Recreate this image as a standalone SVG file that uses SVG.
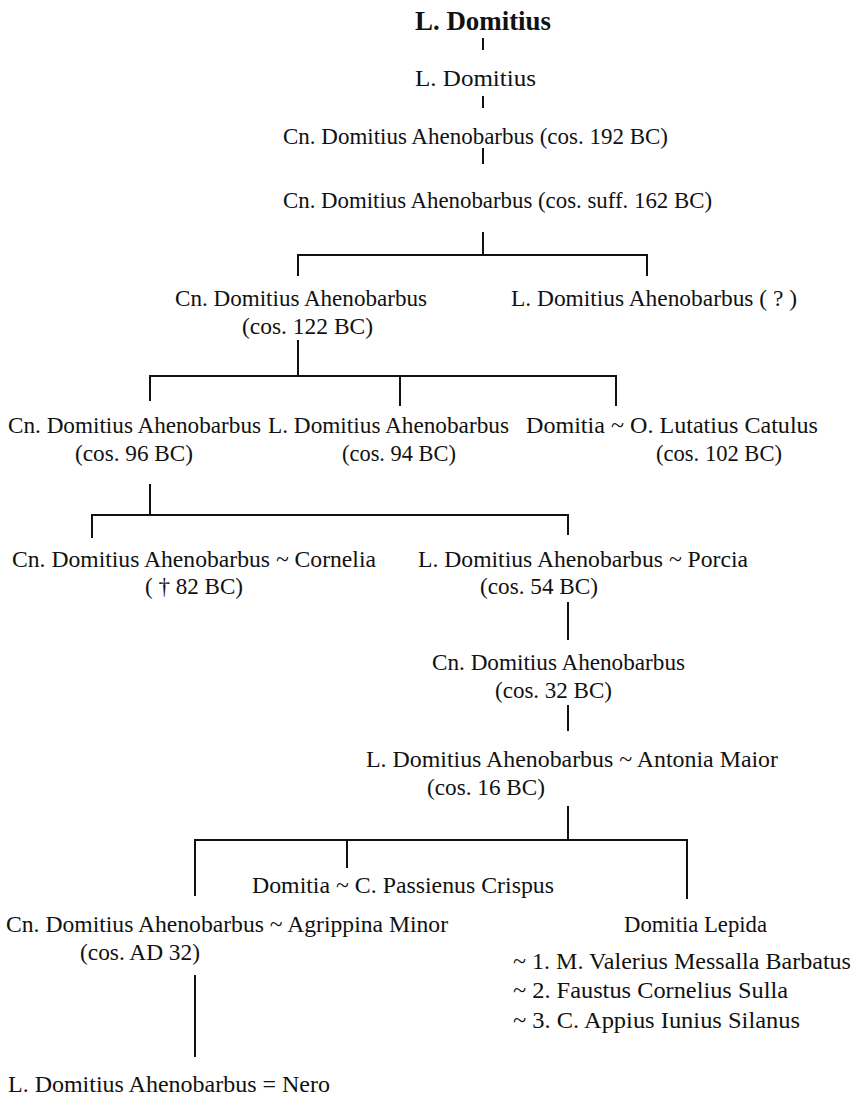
<svg xmlns="http://www.w3.org/2000/svg" width="856" height="1095" viewBox="0 0 856 1095">
<style>
text{font-family:"Times New Roman","Liberation Serif",serif;font-size:23px;fill:#111;}
.b{font-weight:bold;font-size:27px;}
.c line{stroke:#111;stroke-width:2;}
</style>
<rect width="856" height="1095" fill="#fff"/>
<g class="c" id="connectors">
<line x1="483" y1="38" x2="483" y2="50"/>
<line x1="483" y1="96" x2="483" y2="108"/>
<line x1="483" y1="148" x2="483" y2="164"/>
<line x1="483" y1="232" x2="483" y2="255"/>
<line x1="297" y1="255" x2="648" y2="255"/>
<line x1="298" y1="255" x2="298" y2="276"/>
<line x1="647" y1="255" x2="647" y2="276"/>
<line x1="298" y1="340" x2="298" y2="376"/>
<line x1="149" y1="376" x2="617" y2="376"/>
<line x1="150" y1="376" x2="150" y2="401"/>
<line x1="400" y1="376" x2="400" y2="406"/>
<line x1="616" y1="376" x2="616" y2="406"/>
<line x1="150" y1="484" x2="150" y2="515"/>
<line x1="91" y1="515" x2="569" y2="515"/>
<line x1="92" y1="515" x2="92" y2="538"/>
<line x1="568" y1="515" x2="568" y2="535"/>
<line x1="568" y1="602" x2="568" y2="640"/>
<line x1="568" y1="705" x2="568" y2="731"/>
<line x1="568" y1="806" x2="568" y2="840"/>
<line x1="194" y1="840" x2="688" y2="840"/>
<line x1="195" y1="840" x2="195" y2="896"/>
<line x1="347" y1="840" x2="347" y2="868"/>
<line x1="687" y1="840" x2="687" y2="899"/>
<line x1="195" y1="975" x2="195" y2="1057"/>
</g>
<g id="n1"><text class="b" x="415" y="30" textLength="136" lengthAdjust="spacingAndGlyphs">L. Domitius</text></g>
<g id="n2"><text x="415" y="86" textLength="121" lengthAdjust="spacingAndGlyphs">L. Domitius</text></g>
<g id="n3"><text x="283" y="144" textLength="385" lengthAdjust="spacingAndGlyphs">Cn. Domitius Ahenobarbus  (cos. 192 BC)</text></g>
<g id="n4"><text x="283" y="208" textLength="429" lengthAdjust="spacingAndGlyphs">Cn. Domitius Ahenobarbus  (cos. suff. 162 BC)</text></g>
<g id="n5"><text x="175" y="306" textLength="252" lengthAdjust="spacingAndGlyphs">Cn. Domitius Ahenobarbus</text><text x="242" y="334" textLength="131" lengthAdjust="spacingAndGlyphs">(cos. 122 BC)</text></g>
<g id="n6"><text x="511" y="306" textLength="286" lengthAdjust="spacingAndGlyphs">L. Domitius Ahenobarbus  ( ? )</text></g>
<g id="n7"><text x="8" y="433" textLength="253" lengthAdjust="spacingAndGlyphs">Cn. Domitius Ahenobarbus</text><text x="75" y="461" textLength="118" lengthAdjust="spacingAndGlyphs">(cos. 96 BC)</text></g>
<g id="n8"><text x="268" y="433" textLength="241" lengthAdjust="spacingAndGlyphs">L.  Domitius Ahenobarbus</text><text x="342" y="461" textLength="114" lengthAdjust="spacingAndGlyphs">(cos. 94 BC)</text></g>
<g id="n9"><text x="526" y="433" textLength="292" lengthAdjust="spacingAndGlyphs">Domitia  ~  O. Lutatius  Catulus</text><text x="656" y="461" textLength="126" lengthAdjust="spacingAndGlyphs">(cos. 102 BC)</text></g>
<g id="n10"><text x="12" y="567" textLength="364" lengthAdjust="spacingAndGlyphs">Cn. Domitius  Ahenobarbus  ~ Cornelia</text><text x="145" y="594" textLength="98" lengthAdjust="spacingAndGlyphs">( † 82 BC)</text></g>
<g id="n11"><text x="418" y="567" textLength="330" lengthAdjust="spacingAndGlyphs">L. Domitius Ahenobarbus  ~  Porcia</text><text x="480" y="594" textLength="118" lengthAdjust="spacingAndGlyphs">(cos. 54 BC)</text></g>
<g id="n12"><text x="432" y="670" textLength="253" lengthAdjust="spacingAndGlyphs">Cn. Domitius Ahenobarbus</text><text x="495" y="698" textLength="117" lengthAdjust="spacingAndGlyphs">(cos. 32 BC)</text></g>
<g id="n13"><text x="366" y="767" textLength="412" lengthAdjust="spacingAndGlyphs">L. Domitius Ahenobarbus  ~  Antonia Maior</text><text x="427" y="795" textLength="118" lengthAdjust="spacingAndGlyphs">(cos. 16 BC)</text></g>
<g id="n14"><text x="252" y="893" textLength="302" lengthAdjust="spacingAndGlyphs">Domitia  ~  C. Passienus Crispus</text></g>
<g id="n15"><text x="6" y="932" textLength="442" lengthAdjust="spacingAndGlyphs">Cn. Domitius Ahenobarbus  ~  Agrippina Minor</text><text x="80" y="960" textLength="120" lengthAdjust="spacingAndGlyphs">(cos. AD 32)</text></g>
<g id="n16"><text x="624" y="932" textLength="143" lengthAdjust="spacingAndGlyphs">Domitia Lepida</text>
<text x="513" y="969" textLength="338" lengthAdjust="spacingAndGlyphs">~  1.  M. Valerius Messalla Barbatus</text>
<text x="513" y="998" textLength="275" lengthAdjust="spacingAndGlyphs">~  2.  Faustus Cornelius Sulla</text>
<text x="513" y="1028" textLength="287" lengthAdjust="spacingAndGlyphs">~  3.  C. Appius Iunius Silanus</text></g>
<g id="n17"><text x="8" y="1092" textLength="322" lengthAdjust="spacingAndGlyphs">L. Domitius Ahenobarbus  =  Nero</text></g>
</svg>
